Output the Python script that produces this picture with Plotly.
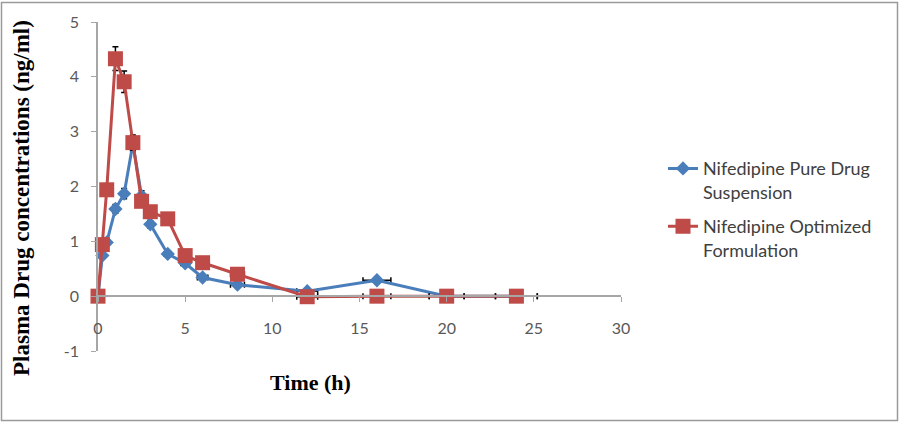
import plotly.graph_objects as go

time_h = [0, 0.25, 0.5, 1, 1.5, 2, 2.5, 3, 4, 5, 6, 8, 12, 16, 20, 24]
pure_drug = [0, 0.74, 0.98, 1.59, 1.87, 2.78, 1.83, 1.31, 0.77, 0.60, 0.34, 0.21, 0.09, 0.29, 0.0, 0.0]
optimized = [0, 0.94, 1.94, 4.33, 3.91, 2.80, 1.73, 1.54, 1.41, 0.74, 0.61, 0.40, -0.01, 0.0, 0.0, 0.0]
x_ticks = [0, 5, 10, 15, 20, 25, 30]
y_ticks = [-1, 0, 1, 2, 3, 4, 5]
series_names = ["Nifedipine Pure Drug<br>Suspension", "Nifedipine Optimized<br>Formulation"]

BLUE = "#4A7EBB"
RED = "#BE4B48"

# plot-area pixel geometry
L, R, T, B = 98, 621, 20, 351
W, H = 900, 438
pw, ph = R - L, B - T

def px_x(p):
    return (p - L) / pw

def px_y(p):
    return (B - p) / ph

err = dict(type="percent", value=5, color="#000000", thickness=1.5, width=3)

fig = go.Figure()
fig.add_trace(go.Scatter(
    x=time_h, y=pure_drug, name=series_names[0], mode="lines+markers",
    line=dict(color=BLUE, width=3),
    marker=dict(symbol="diamond", size=11, color=BLUE),
    error_x=err, error_y=err, cliponaxis=False, legendgroup="a"))
fig.add_trace(go.Scatter(
    x=time_h, y=optimized, name=series_names[1], mode="lines+markers",
    line=dict(color=RED, width=3),
    marker=dict(symbol="square", size=15, color=RED),
    error_x=err, error_y=err, cliponaxis=False, legendgroup="b"))

tick_font = dict(family="Lato", size=16, color="#595959")
fig.update_layout(
    width=W, height=H,
    margin=dict(l=L, r=W - R, t=T, b=H - B, pad=0),
    paper_bgcolor="white", plot_bgcolor="white",
    showlegend=True,
    legend=dict(x=px_x(663), y=px_y(149), xanchor="left", yanchor="top",
                font=dict(family="Lato", size=18, color="#404040"),
                valign="top", tracegroupgap=8, bgcolor="rgba(0,0,0,0)",
                itemwidth=30),
    xaxis=dict(range=[0, 30], tickvals=x_ticks, ticktext=[str(v) for v in x_ticks],
               anchor="free", position=1 / 6,
               showline=True, linecolor="#a6a6a6", linewidth=1.5,
               ticks="outside", ticklen=5, tickcolor="#a6a6a6",
               ticklabelstandoff=13,
               showgrid=False, zeroline=False, tickfont=tick_font),
    yaxis=dict(range=[-1, 5], tickvals=y_ticks, ticktext=[str(v) for v in y_ticks],
               showline=True, linecolor="#a6a6a6", linewidth=1.5,
               ticks="outside", ticklen=5, tickcolor="#a6a6a6",
               ticklabelstandoff=9,
               showgrid=False, zeroline=False, tickfont=tick_font),
)

fig.add_annotation(text="<b>Plasma Drug concentrations (ng/ml)</b>",
                   xref="paper", yref="paper", x=px_x(22), y=px_y(197),
                   xanchor="center", yanchor="middle", textangle=-90, showarrow=False,
                   font=dict(family="Liberation Serif", size=23, color="#000000"))
fig.add_annotation(text="<b>Time (h)</b>",
                   xref="paper", yref="paper", x=px_x(310), y=px_y(383),
                   xanchor="center", yanchor="middle", showarrow=False,
                   font=dict(family="Liberation Serif", size=22, color="#000000"))

fig.add_shape(type="rect", xref="paper", yref="paper",
              x0=px_x(1.5), x1=px_x(897.5), y0=px_y(421), y1=px_y(0.5),
              line=dict(color="#9a9a9a", width=1.5), layer="below")

fig.write_html("out.html")
